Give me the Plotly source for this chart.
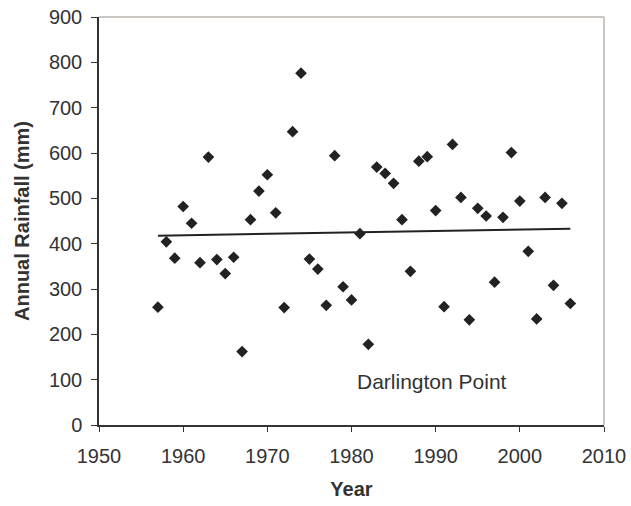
import numpy as np
import plotly.graph_objects as go

years = list(range(1957, 2007))
rainfall = [260, 404, 368, 482, 445, 358, 591, 365, 334, 370,
            162, 453, 516, 552, 468, 259, 647, 776, 366, 344,
            264, 594, 305, 276, 422, 178, 569, 555, 533, 453,
            339, 582, 592, 473, 261, 619, 502, 232, 478, 461,
            315, 458, 601, 494, 383, 234, 502, 308, 489, 268]

x_ticks = [1950, 1960, 1970, 1980, 1990, 2000, 2010]
y_ticks = [0, 100, 200, 300, 400, 500, 600, 700, 800, 900]
site_label = "Darlington Point"

slope, intercept = np.polyfit(years, rainfall, 1)
trend_x = [years[0], years[-1]]
trend_y = [slope * x + intercept for x in trend_x]

FONT = "Liberation Sans, Arial, sans-serif"
TXT = "#333333"
BORDER = "#bcb4af"

fig = go.Figure()
fig.add_trace(go.Scatter(
    x=trend_x, y=trend_y, mode="lines",
    line=dict(color="#222222", width=2), showlegend=False, hoverinfo="skip"))
fig.add_trace(go.Scatter(
    x=years, y=rainfall, mode="markers",
    marker=dict(symbol="diamond", size=9, color="#222222"),
    showlegend=False))

fig.add_annotation(x=1989.6, y=95, xref="x", yref="y", text=site_label,
                   showarrow=False, font=dict(family=FONT, size=21, color=TXT))

fig.add_shape(type="line", xref="paper", yref="paper", x0=0, x1=1, y0=1, y1=1,
              line=dict(color=BORDER, width=1.5))
fig.add_shape(type="line", xref="paper", yref="paper", x0=1, x1=1, y0=0, y1=1,
              line=dict(color=BORDER, width=1.5))

fig.update_layout(
    width=631, height=506,
    margin=dict(l=99, r=27, t=17, b=81),
    paper_bgcolor="white", plot_bgcolor="white",
    font=dict(family=FONT, size=20, color=TXT),
    xaxis=dict(range=[1950, 2010], tickvals=x_ticks, ticks="outside", ticklen=5,
               tickcolor="#333333", showgrid=False, zeroline=False,
               showline=True, linecolor="#333333", linewidth=1.5,
               tickfont=dict(size=20, color=TXT), automargin=False,
               ticklabelstandoff=7, ticklabeloverflow="allow",
               title=dict(text="<b>Year</b>", font=dict(size=20, color=TXT), standoff=16)),
    yaxis=dict(range=[0, 900], tickvals=y_ticks, ticks="outside", ticklen=6,
               tickcolor="#333333", showgrid=False, zeroline=False,
               showline=True, linecolor="#333333", linewidth=1.5,
               tickfont=dict(size=20, color=TXT), automargin=False,
               ticklabelstandoff=5, ticklabeloverflow="allow",
               title=dict(text="<b>Annual Rainfall (mm)</b>", font=dict(size=20, color=TXT), standoff=14)),
)

fig.write_html("out.html", config={"displayModeBar": False},
               post_script="document.body.style.margin='0';document.body.style.padding='0';")
